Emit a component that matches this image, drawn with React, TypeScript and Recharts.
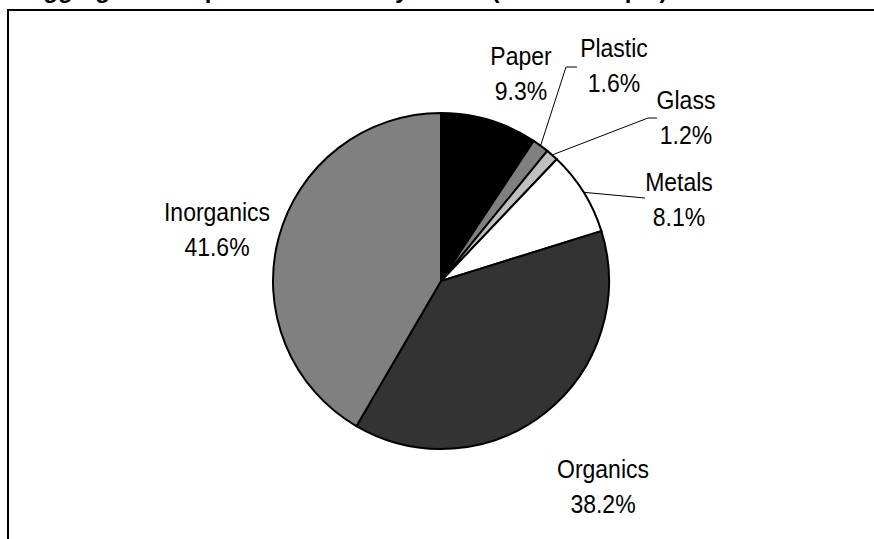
// Aggregate composition pie — grayscale Excel-style slices with leader lines
// for the thin slices. Title sits mostly above the frame (cropped in source).

import { Cell, Pie, PieChart } from "recharts";

const CATEGORIES = ["Paper", "Plastic", "Glass", "Metals", "Organics", "Inorganics"];
const SHARES = [9.3, 1.6, 1.2, 8.1, 38.2, 41.6];

const FILLS = ["#000000", "#808080", "#c0c0c0", "#ffffff", "#333333", "#808080"];

const INK = "#000000";
const FONT = "'Liberation Sans', Arial, sans-serif";
const W = 874;
const H = 539;

// label centre offsets from the pie centre, plus leader elbow/end (relative to label centre)
const LABEL_LAYOUT = [
  { dx: 80, dy: -208, leader: null },
  { dx: 173, dy: -216, leader: { ex: -48, ey: 2, hx: -37 } },
  { dx: 245, dy: -164, leader: { ex: -38, ey: 1, hx: -29 } },
  { dx: 238, dy: -82, leader: { ex: -34, ey: -1, hx: -34 } },
  { dx: 162, dy: 205, leader: null },
  { dx: -224, dy: -52, leader: null },
];

const data = CATEGORIES.map((name, i) => ({ name, value: SHARES[i] }));

const RAD = Math.PI / 180;

function SliceLabel(props: any) {
  const { cx, cy, midAngle, outerRadius, index } = props;
  const lay = LABEL_LAYOUT[index];
  const lx = cx + lay.dx;
  const ly = cy + lay.dy;
  const name = CATEGORIES[index];
  const pct = `${SHARES[index].toFixed(1)}%`;
  let leader = null;
  if (lay.leader) {
    const sx = cx + outerRadius * Math.cos(-midAngle * RAD);
    const sy = cy + outerRadius * Math.sin(-midAngle * RAD);
    const ex = lx + lay.leader.ex;
    const ey = ly + lay.leader.ey;
    const hx = lx + lay.leader.hx;
    leader = (
      <path
        d={`M${sx},${sy} L${ex},${ey} L${hx},${ey}`}
        stroke={INK}
        strokeWidth={1}
        fill="none"
      />
    );
  }
  const line = (txt: string, y: number) => (
    <g transform={`translate(${lx},${y}) scale(1,1.14)`}>
      <text
        x={0}
        y={0}
        textAnchor="middle"
        dominantBaseline="central"
        fontFamily={FONT}
        fontSize={23}
        fill={INK}
      >
        {txt}
      </text>
    </g>
  );
  return (
    <g>
      {leader}
      {line(name, ly - 17)}
      {line(pct, ly + 18)}
    </g>
  );
}

export default function App() {
  return (
    <div
      style={{
        position: "absolute",
        left: 0,
        top: 0,
        width: W,
        height: H,
        background: "#fff",
        overflow: "hidden",
      }}
    >
      <div
        style={{
          position: "absolute",
          left: 26,
          top: -22,
          fontFamily: FONT,
          fontWeight: "bold",
          fontSize: 24,
          lineHeight: "24px",
          whiteSpace: "nowrap",
          color: INK,
        }}
      >
        Aggregate Composition Totals by Waste (Entire Sample)
      </div>
      <div
        style={{
          position: "absolute",
          left: 7,
          top: 9,
          width: W,
          height: H,
          borderLeft: `2px solid ${INK}`,
          borderTop: `2px solid ${INK}`,
        }}
      />
      <div style={{ position: "absolute", left: 0, top: 0 }}>
        <PieChart width={W} height={H} margin={{ top: 0, right: 0, bottom: 0, left: 0 }}>
          <Pie
            data={data}
            dataKey="value"
            nameKey="name"
            cx={441}
            cy={281}
            outerRadius={168}
            startAngle={90}
            endAngle={-270}
            stroke={INK}
            strokeWidth={2}
            label={SliceLabel}
            labelLine={false}
            isAnimationActive={false}
          >
            {data.map((d, i) => (
              <Cell key={d.name} fill={FILLS[i]} />
            ))}
          </Pie>
        </PieChart>
      </div>
    </div>
  );
}
